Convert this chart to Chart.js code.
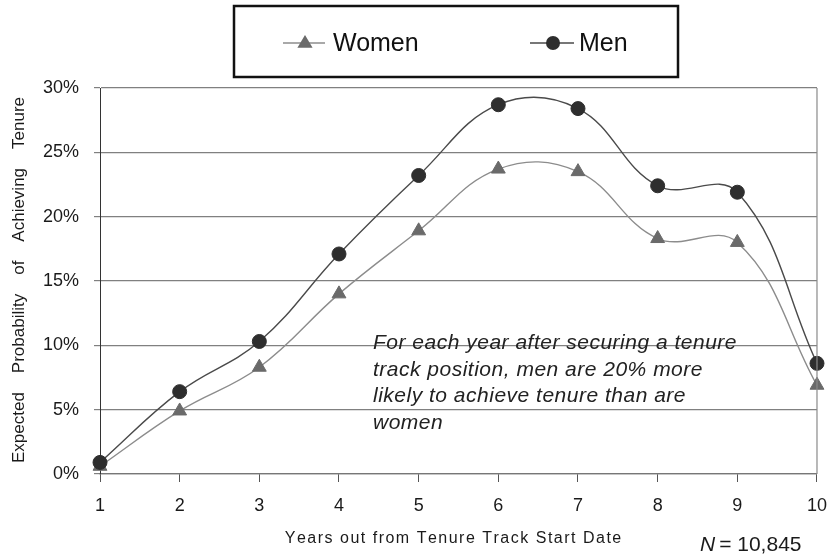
<!DOCTYPE html>
<html>
<head>
<meta charset="utf-8">
<script src="https://cdn.jsdelivr.net/npm/chart.js@4/dist/chart.umd.min.js"></script>
<style>
  html, body { margin: 0; padding: 0; background: #ffffff; }
  #wrap { width: 840px; height: 555px; position: relative; }
</style>
</head>
<body>
<div id="wrap"><canvas id="c" width="840" height="555"></canvas></div>
<script>
// Years since tenure-track start
const years = ['1', '2', '3', '4', '5', '6', '7', '8', '9', '10'];
// Expected probability of achieving tenure (%)
const women = [0.6, 4.9, 8.3, 14.0, 18.9, 23.7, 23.5, 18.3, 18.0, 6.9];
const men   = [0.9, 6.4, 10.3, 17.1, 23.2, 28.7, 28.4, 22.4, 21.9, 8.6];
// Y axis ticks (%)
const yTicks = [0, 5, 10, 15, 20, 25, 30];

const FONT = '"Liberation Sans", Arial, Helvetica, sans-serif';
const noteLines = [
  'For each year after securing a tenure',
  'track position, men are 20% more',
  'likely to achieve tenure than are',
  'women'
];

function drawSpaced(ctx, text, x, y, spacing) {
  let cx = x;
  for (const ch of text) {
    ctx.fillText(ch, cx, y);
    cx += ctx.measureText(ch).width + spacing;
  }
}
function spacedWidth(ctx, text, spacing) {
  let w = 0;
  for (const ch of text) w += ctx.measureText(ch).width + spacing;
  return w - spacing;
}

// Boxed legend, axis titles, note and frame
const decor = {
  id: 'decor',
  afterDraw(chart) {
    const ctx = chart.ctx;
    const area = chart.chartArea;
    ctx.save();

    // right frame line
    ctx.strokeStyle = '#8a8a8a';
    ctx.lineWidth = 1.2;
    ctx.beginPath();
    ctx.moveTo(area.right, area.top);
    ctx.lineTo(area.right, area.bottom);
    ctx.stroke();

    // legend box
    ctx.strokeStyle = '#111';
    ctx.lineWidth = 2.5;
    ctx.strokeRect(234, 6, 444, 71);

    const entries = [
      { ds: chart.data.datasets[1], x0: 283, x1: 325, mx: 305, tx: 333 },
      { ds: chart.data.datasets[0], x0: 530, x1: 574, mx: 553, tx: 579 }
    ];
    const ly = 43;
    for (const e of entries) {
      ctx.strokeStyle = e.ds.borderColor;
      ctx.lineWidth = 1.4;
      ctx.beginPath();
      ctx.moveTo(e.x0, ly);
      ctx.lineTo(e.x1, ly);
      ctx.stroke();
      ctx.fillStyle = e.ds.pointBackgroundColor;
      ctx.beginPath();
      const r = e.ds.pointRadius;
      if (e.ds.pointStyle === 'circle') {
        ctx.arc(e.mx, ly, r, 0, Math.PI * 2);
      } else {
        ctx.moveTo(e.mx, ly - r);
        ctx.lineTo(e.mx + r * 0.95, ly + r * 0.6);
        ctx.lineTo(e.mx - r * 0.95, ly + r * 0.6);
        ctx.closePath();
      }
      ctx.fill();
      ctx.fillStyle = '#111';
      ctx.font = '25px ' + FONT;
      ctx.textBaseline = 'middle';
      ctx.textAlign = 'left';
      ctx.fillText(e.ds.label, e.tx, ly + 1);
    }

    // y axis title with wide word gaps
    ctx.save();
    ctx.translate(19, 463);
    ctx.rotate(-Math.PI / 2);
    ctx.font = '17px ' + FONT;
    ctx.fillStyle = '#1a1a1a';
    ctx.textBaseline = 'middle';
    ctx.textAlign = 'left';
    const words = 'Expected Probability of Achieving Tenure'.split(' ');
    const span = 366;
    let total = 0;
    words.forEach(w => total += ctx.measureText(w).width);
    const gap = (span - total) / (words.length - 1);
    let px = 0;
    words.forEach(w => { ctx.fillText(w, px, 0); px += ctx.measureText(w).width + gap; });
    ctx.restore();

    // x axis title
    ctx.font = '16px ' + FONT;
    ctx.fillStyle = '#1a1a1a';
    ctx.textBaseline = 'middle';
    ctx.textAlign = 'left';
    const xt = 'Years out from Tenure Track Start Date';
    const sp = 1.5;
    const xw = spacedWidth(ctx, xt, sp);
    drawSpaced(ctx, xt, 453 - xw / 2, 539, sp);

    // sample size
    ctx.textBaseline = 'alphabetic';
    ctx.font = 'italic 21px ' + FONT;
    ctx.fillText('N', 700, 551);
    const nw = ctx.measureText('N').width;
    ctx.font = '21px ' + FONT;
    ctx.fillText('= 10,845', 700 + nw + 4, 551);

    // note
    ctx.font = 'italic 21px ' + FONT;
    ctx.fillStyle = '#222';
    ctx.textBaseline = 'alphabetic';
    noteLines.forEach((t, i) => drawSpaced(ctx, t, 373, 349 + i * 26.5, 0.5));

    ctx.restore();
  }
};

new Chart(document.getElementById('c'), {
  type: 'line',
  data: {
    labels: years,
    datasets: [
      {
        label: 'Men',
        data: men,
        borderColor: '#4a4a4a',
        borderWidth: 1.4,
        tension: 0.4,
        pointStyle: 'circle',
        pointRadius: 7,
        pointBackgroundColor: '#2e2e2e',
        pointBorderColor: '#2e2e2e',
        pointBorderWidth: 1,
        order: 1
      },
      {
        label: 'Women',
        data: women,
        borderColor: '#8c8c8c',
        borderWidth: 1.4,
        tension: 0.4,
        pointStyle: 'triangle',
        pointRadius: 8,
        pointBackgroundColor: '#6a6a6a',
        pointBorderColor: '#6a6a6a',
        pointBorderWidth: 1,
        order: 2
      }
    ]
  },
  options: {
    responsive: false,
    animation: false,
    events: [],
    layout: { padding: { top: 88, right: 15, left: 0, bottom: 0 } },
    plugins: {
      legend: { display: false },
      tooltip: { enabled: false },
      title: { display: false }
    },
    scales: {
      x: {
        type: 'category',
        offset: false,
        afterFit(s) { s.height = 81; },
        grid: {
          drawOnChartArea: false,
          drawTicks: true,
          tickLength: 8,
          color: '#555',
          lineWidth: 1
        },
        border: { display: true, color: '#777', width: 1.2 },
        ticks: {
          color: '#1a1a1a',
          font: { family: FONT, size: 18 },
          padding: 13,
          maxRotation: 0,
          autoSkip: false
        }
      },
      y: {
        min: 0,
        max: 30,
        afterFit(s) { s.width = 100; },
        afterBuildTicks(s) { s.ticks = yTicks.map(v => ({ value: v })); },
        grid: {
          color: '#808080',
          lineWidth: 1.2,
          tickLength: 6
        },
        border: { display: true, color: '#333', width: 1 },
        ticks: {
          color: '#1a1a1a',
          font: { family: FONT, size: 18 },
          padding: 15,
          callback: v => v + '%'
        }
      }
    }
  },
  plugins: [decor]
});
</script>
</body>
</html>
